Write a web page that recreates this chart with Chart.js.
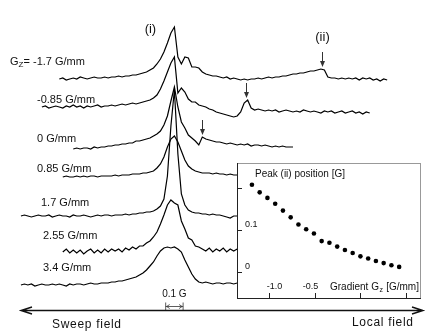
<!DOCTYPE html>
<html>
<head>
<meta charset="utf-8">
<script src="https://cdn.jsdelivr.net/npm/chart.js@4.4.1/dist/chart.umd.min.js"></script>
<style>
  html, body { margin: 0; padding: 0; background: #fff; }
  #wrap { position: relative; width: 436px; height: 332px; overflow: hidden; }
  #mainChart { position: absolute; left: 0; top: 0; }
  #insetChart { position: absolute; left: 237px; top: 163px; }
</style>
</head>
<body>
<div id="wrap">
  <canvas id="mainChart" width="436" height="332"></canvas>
  <canvas id="insetChart" width="184" height="136"></canvas>
</div>
<script>
// field gradient of each trace (G/mm), top to bottom
const gradients = ['-1.7', '-0.85', '0', '0.85', '1.7', '2.55', '3.4'];
// vertical offset of each trace (arb. units)
const offsets = [253, 225, 183, 155, 116, 80, 47];
// first sweep point of each trace (G); sweep step is 0.02 G
const fieldStart = [-0.66, -0.76, -0.58, -0.64, -0.88, -0.64, -0.88];
const fieldStep = 0.02;

// signal of each trace (arb. units)
const trace1 = [0, 1, -1, 0, 1, 0, 2, 1, 0, 1, 2, 1, 1, 2, 1, 2, 2, 3, 2, 3,
  3, 4, 4, 5, 6, 7, 9, 11, 15, 20, 27, 36, 46,
  52,
  22, 15, 22, 21, 12, 12, 11, 7,
  5, 4, 3, 3, 2, 1, 2, 0, 1, 0, -1,
  0, -1, 0, 0, 1, 0, 1, 2, 1, 2,
  2, 3, 3, 4, 5, 5, 6, 6, 7, 8, 8, 9, 10, 9,
  2, 1, 1, 0, 1, 0, 1, 0, 1, -1, 1, 0, 1, -1, 0, -2, 0, -1];
const trace2 = [0, 1, -1, 0, 1, 0, -1, 1, 0, 2, 0, 1, -1, 1, 0, 1, 2, 0, 1,
  1, 2, 1, 2, 3, 2, 3, 4, 3, 4, 5, 6, 7, 9, 12, 18, 26, 35, 44,
  50,
  14, 19, 15, 8, 5, 5, 2, 1, 0,
  -2, -3, -5, -6, -7, -8, -9, -10, -9, -5,
  4, 7, -1,
  -3, -2, -3, -4, -3, -4, -3, -5, -4, -3, -4, -5, -4, -5, -3, -4, -5,
  -4, -5, -6, -4, -5, -4, -6, -5, -4, -6, -5, -4, -6, -5, -7, -5, -6];
const trace3 = [0, 1, 0, 1, 1, 0, 2, 1,
  2, 2, 3, 3, 4, 4, 5, 5, 6, 6, 8, 8, 9, 10, 11, 13, 15, 18, 24, 33, 48,
  62,
  42, 27, 21, 14, 11, 8, 4, 12, 10, 9, 8, 7, 7,
  6, 5, 6, 5, 4, 5, 4, 5, 3, 4, 4, 3, 4, 3, 2, 3, 2, 3, 2, 2, 2];
const trace4 = [0, 1, 0, 0, 1, 0, 1, 0, 1, 1, 0, 1, 1,
  1, 1, 2, 1, 2, 2, 2, 3, 3, 3, 4, 4, 5, 6, 9, 13, 20, 30, 38,
  41,
  35, 26, 17, 11, 8, 6, 5, 4, 4, 4, 3, 4, 3, 3, 2, 3, 2, 2];
const trace5 = [0, 1, 0, -1, 0, 1, 0, 0, 1, -1, 0, 1, 0, 0, -1, 1, 0, 0, 1, 0, -1, 0, 1, 0, 1, 1, 0, 1, 1,
  1, 2, 1, 2, 2, 3, 3, 4, 4, 5, 7, 10, 17, 40, 90,
  126,
  62, 22, 11, 6, 4, 3, 3, 2, 2, 1, 2, 1, 1, 0, -1, -2, 0, 0];
const trace6 = [0, 3, -1, 2, -1, 2, -2, 1, 3, -1, 2, -1, 3, 0, 3, 1, 3, 0, 4,
  2, 5, 3, 6, 6, 9, 11, 15, 20, 28, 37, 47, 52,
  49,
  47, 31, 23, 14, 12, 6, 5, 3, 1, 4, 0, 3, 1, 4, 0, 3, 1, 3];
const trace7 = [0, 1, 0, 1, -1, 0, 1, 0, 0, 1, 0, 1, 0, -1, 1, 0, 1, 1, 0, 1, 2, 1, 1, 2,
  2, 2, 3, 3, 4, 4, 5, 6, 7, 8, 10, 12, 15, 19, 23, 29, 34, 37, 38, 37,
  38,
  36, 33, 25, 18, 11, 6, 3, 2, 3, 2, 1, 2, 2, 1, 2, 2, 1, 2];
const traces = [trace1, trace2, trace3, trace4, trace5, trace6, trace7];

// position of peak (ii) marked by arrows on the first three traces (G)
const peakIIField = [0.846, 0.41, 0.158];

// inset: peak (ii) position vs gradient
const gradientGz = [-1.19, -1.105, -1.02, -0.935, -0.85, -0.765, -0.68, -0.595, -0.51, -0.425,
  -0.34, -0.255, -0.17, -0.085, 0, 0.085, 0.17, 0.255, 0.34, 0.425];
const peakPosition = [0.207, 0.189, 0.176, 0.162, 0.146, 0.130, 0.113, 0.102, 0.092, 0.074,
  0.070, 0.061, 0.053, 0.046, 0.038, 0.033, 0.027, 0.022, 0.017, 0.013];
const insetYTicks = [0, 0.1, 0.2];
const insetYLabels = ['0', '0.1', ''];
const insetXTicks = [-1.0, -0.5, 0, 0.5];
const insetXLabels = ['-1.0', '-0.5', '', ''];

const FONT = '"Liberation Sans", Arial, sans-serif';

// where the gradient labels sit (canvas px)
const labelAt = [[10, 62], [37, 100], [37, 139], [37, 169], [41, 203], [43, 236], [43, 268]];
// the inset's x tick labels sit a little off their ticks in the original
const xLabelShift = [5, -5, 0, 0];

function downArrow(ctx, px, top, tip) {
    ctx.beginPath();
    ctx.moveTo(px, top);
    ctx.lineTo(px, tip - 4);
    ctx.stroke();
    ctx.beginPath();
    ctx.moveTo(px - 2.5, tip - 6);
    ctx.lineTo(px, tip);
    ctx.lineTo(px + 2.5, tip - 6);
    ctx.closePath();
    ctx.fill();
}

const figureMarks = {
    id: 'figureMarks',
    afterDatasetsDraw(chart) {
        const { ctx, scales: { x, y } } = chart;
        ctx.save();
        ctx.fillStyle = '#111';
        ctx.strokeStyle = '#111';
        ctx.textBaseline = 'middle';

        // gradient labels
        gradients.forEach((g, i) => {
            const [lx, ly] = labelAt[i];
            ctx.font = `11px ${FONT}`;
            if (i === 0) {
                ctx.fillText('G', lx, ly);
                let cx = lx + ctx.measureText('G').width;
                ctx.font = `8px ${FONT}`;
                ctx.fillText('Z', cx, ly + 3);
                cx += ctx.measureText('Z').width;
                ctx.font = `11px ${FONT}`;
                ctx.fillText('=', cx, ly);
                ctx.fillText(g + ' G/mm', 33, ly);
            } else {
                ctx.fillText(g + ' G/mm', lx, ly);
            }
        });

        // peak (i) label over the top trace
        const peakTop = y.getPixelForValue(offsets[0] + Math.max(...trace1));
        ctx.font = `13px ${FONT}`;
        ctx.textAlign = 'center';
        ctx.fillText('(i)', x.getPixelForValue(0) - 24, peakTop + 2);

        // arrows on peak (ii)
        ctx.fillStyle = '#333';
        ctx.strokeStyle = '#333';
        ctx.lineWidth = 1;
        peakIIField.forEach((f, i) => {
            const pts = chart.data.datasets[i].data.filter(p => Math.abs(p.x - f) <= 0.025);
            const top = Math.max(...pts.map(p => p.y));
            const px = Math.round(x.getPixelForValue(f)) + 0.5;
            const tip = y.getPixelForValue(top) - 2;
            downArrow(ctx, px, tip - 15, tip);
            if (i === 0) {
                ctx.fillStyle = '#111';
                ctx.font = `13px ${FONT}`;
                ctx.fillText('(ii)', px, tip - 30);
                ctx.fillStyle = '#333';
            }
        });

        // 0.1 G scale bar
        const b0 = x.getPixelForValue(-0.05), b1 = x.getPixelForValue(0.05);
        const by = 306.5;
        ctx.lineWidth = 0.8;
        ctx.beginPath();
        ctx.moveTo(b0, by - 4); ctx.lineTo(b0, by + 4);
        ctx.moveTo(b1, by - 4); ctx.lineTo(b1, by + 4);
        ctx.moveTo(b0, by); ctx.lineTo(b1, by);
        ctx.moveTo(b0 + 4, by - 2); ctx.lineTo(b0 + 1, by); ctx.lineTo(b0 + 4, by + 2);
        ctx.moveTo(b1 - 4, by - 2); ctx.lineTo(b1 - 1, by); ctx.lineTo(b1 - 4, by + 2);
        ctx.stroke();
        ctx.fillStyle = '#111';
        ctx.font = `10px ${FONT}`;
        ctx.fillText('0.1 G', (b0 + b1) / 2, 294);

        // sweep / local field double arrow
        const ay = 310.5;
        ctx.strokeStyle = '#111';
        ctx.lineWidth = 1.4;
        ctx.beginPath();
        ctx.moveTo(21, ay); ctx.lineTo(423, ay);
        ctx.moveTo(32, ay - 3.5); ctx.lineTo(21, ay); ctx.lineTo(32, ay + 3.5);
        ctx.moveTo(412, ay - 3.5); ctx.lineTo(423, ay); ctx.lineTo(412, ay + 3.5);
        ctx.stroke();
        ctx.font = `12px ${FONT}`;
        ctx.letterSpacing = '0.7px';
        ctx.textAlign = 'left';
        ctx.fillText('Sweep field', 52, 325);
        ctx.fillText('Local field', 352, 323);
        ctx.restore();
    }
};

new Chart(document.getElementById('mainChart'), {
    type: 'line',
    data: {
        datasets: traces.map((vals, i) => ({
            label: gradients[i] + ' G/mm',
            data: vals.map((h, j) => ({ x: fieldStart[i] + j * fieldStep, y: offsets[i] + h })),
            borderColor: '#000',
            borderWidth: 1.2,
            pointRadius: 0,
            tension: 0,
            fill: false
        }))
    },
    options: {
        responsive: false,
        animation: false,
        devicePixelRatio: 1,
        events: [],
        layout: { padding: 0 },
        plugins: { legend: { display: false }, tooltip: { enabled: false } },
        scales: {
            x: { type: 'linear', min: -1.0, max: 1.5, display: false },
            y: { type: 'linear', min: 0, max: 332, display: false }
        }
    },
    plugins: [figureMarks]
});

// inset frame, ticks and titles
const insetFrame = {
    id: 'insetFrame',
    beforeDraw(chart) {
        const { ctx, width, height } = chart;
        ctx.save();
        ctx.fillStyle = '#fff';
        ctx.fillRect(0, 0, width, height);
        ctx.restore();
    },
    afterDatasetsDraw(chart) {
        const { ctx, width, height, scales: { x, y } } = chart;
        ctx.save();
        ctx.lineWidth = 1;
        ctx.strokeStyle = '#999';
        ctx.beginPath();
        ctx.moveTo(0, 0.5); ctx.lineTo(width, 0.5);
        ctx.moveTo(width - 0.5, 0); ctx.lineTo(width - 0.5, height);
        ctx.stroke();
        ctx.strokeStyle = '#222';
        ctx.beginPath();
        ctx.moveTo(0.5, 0); ctx.lineTo(0.5, height);
        ctx.moveTo(0, height - 0.5); ctx.lineTo(width, height - 0.5);
        ctx.stroke();

        ctx.fillStyle = '#111';
        ctx.textBaseline = 'middle';
        ctx.font = `9px ${FONT}`;
        insetYTicks.forEach((v, i) => {
            const py = Math.round(y.getPixelForValue(v)) + 0.5;
            ctx.beginPath();
            ctx.moveTo(0, py); ctx.lineTo(5, py);
            ctx.stroke();
            ctx.textAlign = 'left';
            ctx.fillText(insetYLabels[i], 8, py - 6);
        });
        insetXTicks.forEach((v, i) => {
            const px = Math.round(x.getPixelForValue(v)) + 0.5;
            ctx.beginPath();
            ctx.moveTo(px, height); ctx.lineTo(px, height - 6);
            ctx.stroke();
            ctx.textAlign = 'center';
            ctx.fillText(insetXLabels[i], px + xLabelShift[i], height - 12);
        });

        ctx.textAlign = 'left';
        ctx.font = `10px ${FONT}`;
        ctx.fillText('Peak (ii) position [G]', 18, 11);
        let cx = 93;
        const ty = height - 12;
        ctx.fillText('Gradient G', cx, ty);
        cx += ctx.measureText('Gradient G').width;
        ctx.font = `7px ${FONT}`;
        ctx.fillText('z', cx + 0.5, ty + 3);
        cx += ctx.measureText('z').width + 1;
        ctx.font = `10px ${FONT}`;
        ctx.fillText(' [G/mm]', cx, ty);
        ctx.restore();
    }
};

new Chart(document.getElementById('insetChart'), {
    type: 'scatter',
    data: {
        datasets: [{
            label: 'Peak (ii) position',
            data: gradientGz.map((g, i) => ({ x: g, y: peakPosition[i] })),
            pointRadius: 2.3,
            pointBackgroundColor: '#000',
            pointBorderWidth: 0
        }]
    },
    options: {
        responsive: false,
        animation: false,
        devicePixelRatio: 1,
        events: [],
        layout: { padding: 0 },
        plugins: { legend: { display: false }, tooltip: { enabled: false } },
        scales: {
            x: { type: 'linear', min: -1.31, max: 0.6207, display: false },
            y: { type: 'linear', min: -0.0533, max: 0.2489, display: false }
        }
    },
    plugins: [insetFrame]
});
</script>
</body>
</html>
